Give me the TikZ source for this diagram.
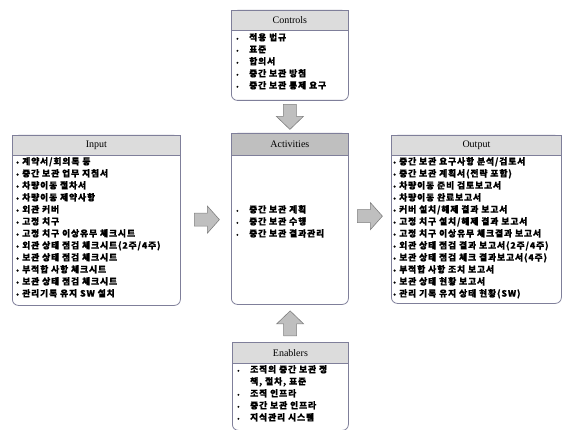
\documentclass[tikz,border=0pt]{standalone}
\usepackage{fontspec}
\setmainfont{Liberation Serif}
\newfontfamily\kfont[LetterSpace=10, BoldFeatures={FakeBold=0.6}]{Noto Sans CJK KR}
\usetikzlibrary{calc}
\definecolor{bordc}{HTML}{7F7F9A}
\definecolor{hdrlight}{HTML}{DCDCDC}
\definecolor{hdrdark}{HTML}{BFBFBF}
\definecolor{arrfill}{HTML}{BFBFBF}
\definecolor{arrline}{HTML}{808080}
\tikzset{
  boxbody/.style={draw=bordc, line width=0.8pt, rounded corners=6pt, fill=white, inner sep=0pt, anchor=north west},
  hdr/.style={draw=bordc, line width=0.8pt, fill=hdrlight, inner sep=0pt, anchor=north, font=\fontsize{10}{12}\selectfont},
  hdrd/.style={hdr, fill=hdrdark},
  lst/.style={anchor=north west, align=left, inner sep=0pt, font=\kfont\bfseries\fontsize{8.8}{12}\selectfont},
  blockarr/.style={draw=arrline, fill=arrfill, line width=0.6pt, line join=miter}
}
\newcommand{\tb}{\makebox[13pt][l]{\fontsize{6}{6}\selectfont\textbullet}}
\newcommand{\ib}{\makebox[6pt][l]{\fontsize{7}{7}\selectfont\textbullet}}
\begin{document}
\begin{tikzpicture}[x=1pt,y=-1pt]
\useasboundingbox (0,0) rectangle (567,430);
% boxes
\node[boxbody, minimum width=117pt, minimum height=90pt] (ctl) at (231,10) {};
\node[hdr, minimum width=117pt, minimum height=20pt] (ctlh) at (ctl.north) {Controls};
\node[boxbody, minimum width=168pt, minimum height=170pt] (inp) at (12,135) {};
\node[hdr, minimum width=168pt, minimum height=20pt] (inph) at (inp.north) {Input};
\node[boxbody, minimum width=117pt, minimum height=171pt] (act) at (231,133) {};
\node[hdrd, minimum width=117pt, minimum height=22pt] (acth) at (act.north) {Activities};
\node[boxbody, minimum width=170pt, minimum height=168pt] (out) at (391,135) {};
\node[hdr, minimum width=170pt, minimum height=20pt] (outh) at (out.north) {Output};
\node[boxbody, minimum width=116pt, minimum height=88pt] (enb) at (232,342) {};
\node[hdr, minimum width=116pt, minimum height=21pt] (enbh) at (enb.north) {Enablers};
% lists
\node[lst] (ctll) at (236,33) {\tb 적용 법규\\\tb 표준\\\tb 합의서\\\tb 중간 보관 방침\\\tb 중간 보관 통제 요구};
\node[lst] (inpl) at (16,157) {\ib 계약서/회의록 등\\\ib 중간 보관 업무 지침서\\\ib 차량이동 절차서\\\ib 차량이동 제약사항\\\ib 외관 커버\\\ib 고정 치구\\\ib 고정 치구 이상유무 체크시트\\\ib 외관 상태 점검 체크시트(2주/4주)\\\ib 보관 상태 점검 체크시트\\\ib 부적합 사항 체크시트\\\ib 보관 상태 점검 체크시트\\\ib 관리기록 유지 SW 설치};
\node[lst] (actl) at (236,205) {\tb 중간 보관 계획\\\tb 중간 보관 수행\\\tb 중간 보관 결과관리};
\node[lst] (outl) at (393,157) {\ib 중간 보관 요구사항 분석/검토서\\\ib 중간 보관 계획서(전략 포함)\\\ib 차량이동 준비 검토보고서\\\ib 차량이동 완료보고서\\\ib 커버 설치/해제 결과 보고서\\\ib 고정 치구 설치/해제 결과 보고서\\\ib 고정 치구 이상유무 체크결과 보고서\\\ib 외관 상태 점검 결과 보고서(2주/4주)\\\ib 보관 상태 점검 체크 결과보고서(4주)\\\ib 부적합 사항 조치 보고서\\\ib 보관 상태 현황 보고서\\\ib 관리 기록 유지 상태 현황(SW)};
\node[lst] (enbl) at (237,365) {\tb 조직의 중간 보관 정\\\hspace*{13pt}책, 절차, 표준\\\tb 조직 인프라\\\tb 중간 보관 인프라\\\tb 지식관리 시스템};
% block arrows
\coordinate (a1) at ($(ctl.south)!0.5!(act.north)$);
\draw[blockarr] ($(a1)+(-6.5,-12.5)$) -- ($(a1)+(6.5,-12.5)$) -- ($(a1)+(6.5,-0.5)$) -- ($(a1)+(13.5,-0.5)$) -- ($(a1)+(0,12.5)$) -- ($(a1)+(-13.5,-0.5)$) -- ($(a1)+(-6.5,-0.5)$) -- cycle;
\coordinate (a2) at ($(inp.east)!0.52!(act.west)+(0,0)$);
\draw[blockarr] ($(a2)+(-12.5,-6.5)$) -- ($(a2)+(0.5,-6.5)$) -- ($(a2)+(0.5,-13.5)$) -- ($(a2)+(12.5,0)$) -- ($(a2)+(0.5,13.5)$) -- ($(a2)+(0.5,6.5)$) -- ($(a2)+(-12.5,6.5)$) -- cycle;
\coordinate (a3) at ($(act.east)!0.5!(out.west)+(0,-3)$);
\draw[blockarr] ($(a3)+(-12.5,-6.5)$) -- ($(a3)+(0.5,-6.5)$) -- ($(a3)+(0.5,-13.5)$) -- ($(a3)+(12.5,0)$) -- ($(a3)+(0.5,13.5)$) -- ($(a3)+(0.5,6.5)$) -- ($(a3)+(-12.5,6.5)$) -- cycle;
\coordinate (a4) at ($(act.south)!0.5!(enb.north)$);
\draw[blockarr] ($(a4)+(-6.5,12.5)$) -- ($(a4)+(6.5,12.5)$) -- ($(a4)+(6.5,0.5)$) -- ($(a4)+(13.5,0.5)$) -- ($(a4)+(0,-12.5)$) -- ($(a4)+(-13.5,0.5)$) -- ($(a4)+(-6.5,0.5)$) -- cycle;
\end{tikzpicture}
\end{document}
